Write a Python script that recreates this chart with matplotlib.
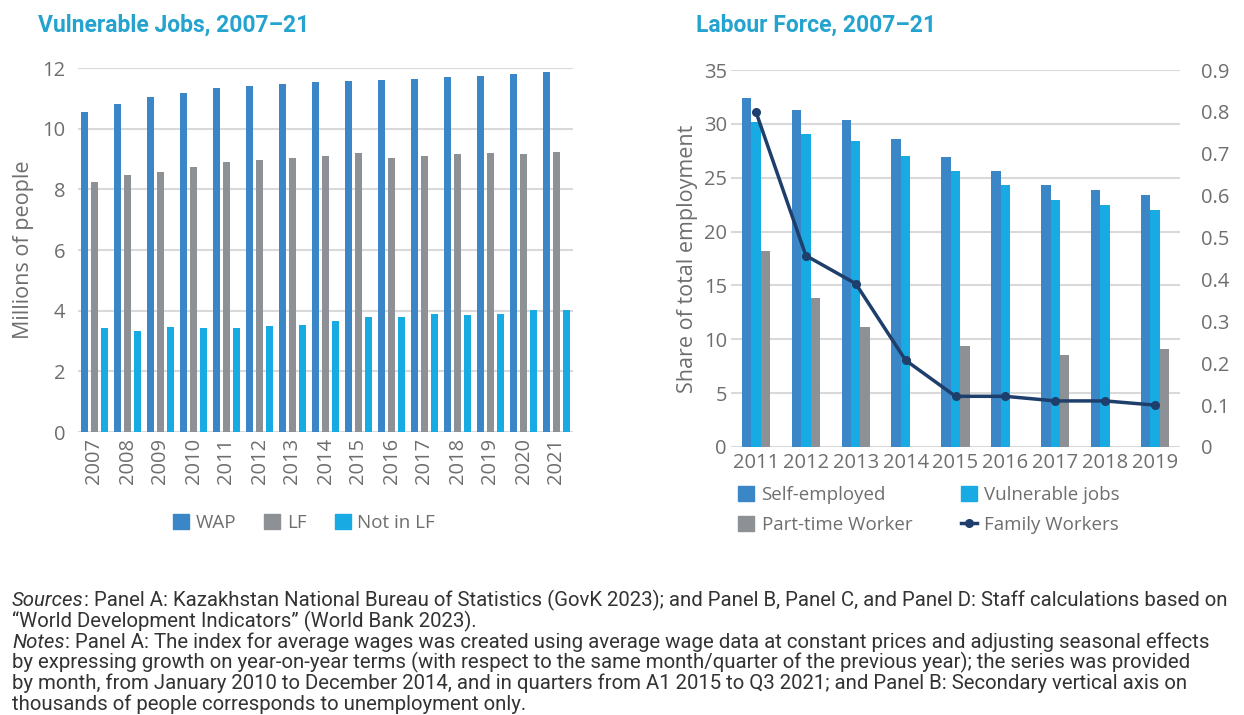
import numpy as np
import matplotlib
matplotlib.use("Agg")
import matplotlib.pyplot as plt
from matplotlib.patches import Patch
from matplotlib.lines import Line2D
from matplotlib import font_manager

# ---------------- data ----------------
years_a = ["2007", "2008", "2009", "2010", "2011", "2012", "2013", "2014",
           "2015", "2016", "2017", "2018", "2019", "2020", "2021"]
wap = [10.56, 10.80, 11.03, 11.19, 11.34, 11.41, 11.48, 11.53, 11.57, 11.60,
       11.65, 11.71, 11.75, 11.79, 11.87]
lf = [8.24, 8.47, 8.58, 8.75, 8.89, 8.97, 9.04, 9.09, 9.20, 9.04, 9.09,
      9.16, 9.20, 9.16, 9.23]
not_lf = [3.42, 3.34, 3.46, 3.42, 3.42, 3.49, 3.54, 3.66, 3.80, 3.80, 3.88,
          3.85, 3.88, 4.02, 4.02]

years_b = ["2011", "2012", "2013", "2014", "2015", "2016", "2017", "2018", "2019"]
self_employed = [32.4, 31.3, 30.4, 28.6, 26.9, 25.6, 24.35, 23.9, 23.4]
vulnerable = [30.2, 29.1, 28.45, 27.0, 25.6, 24.3, 22.9, 22.5, 22.0]
part_time = [18.2, 13.8, 11.1, np.nan, 9.4, np.nan, 8.55, np.nan, 9.1]
family = [0.80, 0.457, 0.39, 0.207, 0.121, 0.121, 0.110, 0.110, 0.100]

left_ticks = [0, 2, 4, 6, 8, 10, 12]
right_ticks_l = [0, 5, 10, 15, 20, 25, 30, 35]
right_ticks_r = [0, 0.1, 0.2, 0.3, 0.4, 0.5, 0.6, 0.7, 0.8, 0.9]
right_ticklabels_r = ["0", "0.1", "0.2", "0.3", "0.4", "0.5", "0.6", "0.7", "0.8", "0.9"]

# ---------------- style ----------------
C_DARK = "#3A86C6"
C_GREY = "#8D9094"
C_LIGHT = "#17AAE3"
C_LINE = "#1E3F6C"
C_TITLE = "#25A3CF"
C_TEXT = "#6E6E6E"
C_GRID = "#D9D9D9"

plt.rcParams['font.family'] = ['Open Sans', 'DejaVu Sans']

W, H = 1244, 715
fig = plt.figure(figsize=(W / 100, H / 100), dpi=100)


def fx(px):
    return px / W


def fy(py):
    return 1 - py / H


TICK_FS = 14.5
LAB_FS = 15.5
LEG_FS = 13.5

# ---------------- Panel A ----------------
axA = fig.add_axes([fx(78), fy(432), fx(573 - 78), (432 - 68) / H])
x = np.arange(len(years_a))
bw = 0.23
axA.bar(x - 0.30, wap, bw, color=C_DARK, label="WAP", zorder=3)
axA.bar(x, lf, bw, color=C_GREY, label="LF", zorder=3)
axA.bar(x + 0.30, not_lf, bw, color=C_LIGHT, label="Not in LF", zorder=3)
axA.set_xlim(-0.5, len(years_a) - 0.5)
axA.set_ylim(0, 12)
axA.set_yticks(left_ticks)
axA.set_yticklabels([str(t) for t in left_ticks])
axA.set_xticks(x)
axA.set_xticklabels(years_a, rotation=90)
axA.grid(axis='y', color=C_GRID, lw=1.5, zorder=0)
axA.set_axisbelow(True)
for s in axA.spines.values():
    s.set_visible(False)
axA.tick_params(axis='both', length=0, labelsize=TICK_FS, labelcolor=C_TEXT)
axA.tick_params(axis='y', pad=9)
axA.tick_params(axis='x', pad=4)
axA.set_ylabel("Millions of people", fontsize=LAB_FS, color=C_TEXT, labelpad=6)
fig.text(fx(38), fy(25), "Vulnerable Jobs, 2007–21", fontsize=16.5,
         fontweight='bold', color=C_TITLE, va='center', ha='left',
         family=['Roboto', 'DejaVu Sans'])

handles_a = [Patch(color=C_DARK, label="WAP"), Patch(color=C_GREY, label="LF"),
             Patch(color=C_LIGHT, label="Not in LF")]
legA = fig.legend(handles=handles_a, loc='center', bbox_to_anchor=(fx(304), fy(523)),
                  ncol=3, frameon=False, fontsize=LEG_FS, handlelength=0.85,
                  handleheight=0.85, handletextpad=0.35, columnspacing=1.5)
for t in legA.get_texts():
    t.set_color(C_TEXT)

# ---------------- Panel B ----------------
axB = fig.add_axes([fx(731), fy(447), fx(1180 - 731), (447 - 70) / H])
xb = np.arange(len(years_b))
bw2 = 0.19
axB.bar(xb - bw2, self_employed, bw2, color=C_DARK, zorder=3)
axB.bar(xb, vulnerable, bw2, color=C_LIGHT, zorder=3)
axB.bar(xb + bw2, part_time, bw2, color=C_GREY, zorder=3)
axB.set_xlim(-0.5, len(years_b) - 0.5)
axB.set_ylim(0, 35)
axB.set_yticks(right_ticks_l)
axB.set_yticklabels([str(t) for t in right_ticks_l])
axB.set_xticks(xb)
axB.set_xticklabels(years_b)
axB.grid(axis='y', color=C_GRID, lw=1.5, zorder=0)
axB.set_axisbelow(True)
for s in axB.spines.values():
    s.set_visible(False)
axB.tick_params(axis='both', length=0, labelsize=TICK_FS, labelcolor=C_TEXT)
axB.tick_params(axis='y', pad=3)
axB.tick_params(axis='x', pad=4)
axB.set_ylabel("Share of total employment", fontsize=LAB_FS, color=C_TEXT, labelpad=4)

axB2 = axB.twinx()
axB2.plot(xb, family, color=C_LINE, lw=2.5, marker='o', ms=5.5, zorder=5)
axB2.set_ylim(0, 0.9)
axB2.set_yticks(right_ticks_r)
axB2.set_yticklabels(right_ticklabels_r)
for s in axB2.spines.values():
    s.set_visible(False)
axB2.tick_params(axis='both', length=0, labelsize=TICK_FS, labelcolor=C_TEXT)
axB2.tick_params(axis='y', pad=15)

fig.text(fx(696), fy(25), "Labour Force, 2007–21", fontsize=16.5,
         fontweight='bold', color=C_TITLE, va='center', ha='left',
         family=['Roboto', 'DejaVu Sans'])

handles_b = [Patch(color=C_DARK, label="Self-employed"),
             Patch(color=C_GREY, label="Part-time Worker"),
             Patch(color=C_LIGHT, label="Vulnerable jobs"),
             Line2D([0], [0], color=C_LINE, lw=2.5, marker='o', ms=5.5,
                    label="Family Workers")]
legB = fig.legend(handles=handles_b, loc='center', bbox_to_anchor=(fx(929), fy(510)),
                  ncol=2, frameon=False, fontsize=LEG_FS, handlelength=0.85,
                  handleheight=0.85, handletextpad=0.4, columnspacing=2.6,
                  labelspacing=0.6)
for t in legB.get_texts():
    t.set_color(C_TEXT)

# ---------------- footnote ----------------
foot_lines = [
    ("Sources", ": Panel A: Kazakhstan National Bureau of Statistics (GovK 2023); and Panel B, Panel C, and Panel D: Staff calculations based on"),
    ("", "“World Development Indicators” (World Bank 2023)."),
    ("Notes", ": Panel A: The index for average wages was created using average wage data at constant prices and adjusting seasonal effects"),
    ("", "by expressing growth on year-on-year terms (with respect to the same month/quarter of the previous year); the series was provided"),
    ("", "by month, from January 2010 to December 2014, and in quarters from A1 2015 to Q3 2021; and Panel B: Secondary vertical axis on"),
    ("", "thousands of people corresponds to unemployment only."),
]
foot_family = ['Liberation Sans Narrow', 'DejaVu Sans']
try:
    font_manager.findfont('Liberation Sans Narrow', fallback_to_default=False)
except Exception:
    foot_family = ['Roboto', 'DejaVu Sans']

renderer = fig.canvas.get_renderer()
target_w = 1222
fs0 = 12
t1 = fig.text(0, 0, foot_lines[0][0], fontsize=fs0, style='italic', family=foot_family)
t2 = fig.text(0, 0, foot_lines[0][1], fontsize=fs0, family=foot_family)
w0 = t1.get_window_extent(renderer).width + t2.get_window_extent(renderer).width
t1.remove(); t2.remove()
fs = fs0 * target_w / w0 * 0.997

line_y = [600, 621, 642, 662, 683, 704]
for (it, rest), py in zip(foot_lines, line_y):
    xpos = 12
    if it:
        ti = fig.text(fx(xpos), fy(py), it, fontsize=fs, style='italic',
                      family=foot_family, color="#333333", va='center', ha='left')
        xpos += ti.get_window_extent(renderer).width
    fig.text(fx(xpos), fy(py), rest, fontsize=fs, family=foot_family,
             color="#333333", va='center', ha='left')

fig.savefig("out.png", dpi=100)
